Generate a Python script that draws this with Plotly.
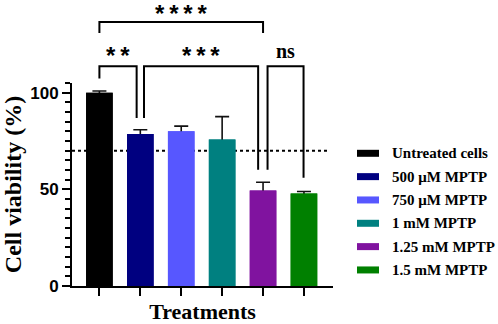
import plotly.graph_objects as go

# ---- data ----
categories = ["Untreated cells", "500 μM MPTP", "750 μM MPTP", "1 mM MPTP", "1.25 mM MPTP", "1.5 mM MPTP"]
viability = [100.0, 78.6, 80.0, 75.8, 49.4, 47.8]
err_up = [0.9, 2.2, 2.7, 11.8, 4.3, 1.1]
colors = ["#000000", "#000080", "#5757FF", "#008080", "#80139F", "#008000"]
threshold = 70
ytick_vals = [0, 50, 100]

# significance brackets: left x, right x, bar height, left leg end, right leg end, label
br_left = [0, 0, 1.09, 4.11]
br_right = [4.0, 0.91, 3.88, 4.99]
br_top = [136.6, 113.6, 113.6, 113.6]
br_lend = [130.9, 107.3, 86.9, 60.1]
br_rend = [130.9, 86.9, 60.1, 56.0]
br_label = ["*\u2009*\u2009*\u2009*", "*\u2009*", "*\u2009*\u2009*", "ns"]
label_shift = [-6, -4, -4, 3]

YMAX = 105
L, R, T, B = 72, 165, 83, 38
W, H = 498, 324
PW, PH = W - L - R, H - T - B

def py2paper(py):
    return (H - B - py) / PH

def px2paper(px):
    return (px - L) / PW

SERIF = "Liberation Serif"
SANS = "Liberation Sans"

fig = go.Figure()
# bars with error bars (lower part hidden by overlay bars)
fig.add_trace(go.Bar(
    x=categories, y=viability, marker=dict(color=colors, line=dict(width=0)),
    width=0.65, showlegend=False, hoverinfo="skip",
    error_y=dict(type="data", symmetric=False, array=err_up, arrayminus=viability,
                 color="#111111", thickness=1.6, width=7),
))
fig.add_trace(go.Bar(
    x=categories, y=viability, marker=dict(color=colors, line=dict(width=0)),
    width=0.65, showlegend=False,
))

shapes = []
# threshold dotted line (behind bars)
shapes.append(dict(type="line", xref="x", yref="y", x0=-0.67, x1=5.6, y0=threshold, y1=threshold,
                   line=dict(color="black", width=2, dash="dot"), layer="below"))

annotations = []
for xl, xr, yt, yl, yr, lab, ys in zip(br_left, br_right, br_top, br_lend, br_rend, br_label, label_shift):
    shapes.append(dict(type="path", xref="x", yref="paper",
                       path=f"M {xl},{yl/YMAX} L {xl},{yt/YMAX} L {xr},{yt/YMAX} L {xr},{yr/YMAX}",
                       line=dict(color="black", width=2)))
    is_ns = lab == "ns"
    annotations.append(dict(
        x=(xl + xr) / 2, y=yt / YMAX, xref="x", yref="paper", text=lab, showarrow=False,
        xanchor="center", yanchor="bottom", yshift=ys, borderpad=0,
        font=dict(family=SERIF if is_ns else SANS, size=20 if is_ns else 24, color="black", weight="bold"),
    ))

# custom legend
for i, (name, c) in enumerate(zip(categories, colors)):
    cy = 153.3 + 23.33 * i
    shapes.append(dict(type="rect", xref="paper", yref="paper",
                       x0=px2paper(357), x1=px2paper(379), y0=py2paper(cy + 3.5), y1=py2paper(cy - 3.5),
                       fillcolor=c, line=dict(width=0)))
    annotations.append(dict(x=px2paper(390), y=py2paper(cy), xref="paper", yref="paper",
                            text=name, showarrow=False, xanchor="left", yanchor="middle",
                            font=dict(family=SERIF, size=15, color="black", weight="bold")))

fig.update_layout(
    width=W, height=H, margin=dict(l=L, r=R, t=T, b=B, pad=0, autoexpand=False),
    paper_bgcolor="white", plot_bgcolor="white", barmode="overlay",
    showlegend=False, shapes=shapes, annotations=annotations,
    xaxis=dict(type="category", range=[-0.67, 5.71], showgrid=False, zeroline=False, automargin=False,
               showline=True, linecolor="black", linewidth=2,
               ticks="outside", ticklen=8, tickwidth=2, tickcolor="black", showticklabels=False,
               title=dict(text="Treatments", standoff=9,
                          font=dict(family=SERIF, size=22, color="black", weight="bold"))),
    yaxis=dict(range=[0, YMAX], showgrid=False, zeroline=False, automargin=False,
               showline=True, linecolor="black", linewidth=2,
               tickvals=ytick_vals, ticks="outside", ticklen=8, tickwidth=2, tickcolor="black",
               tickfont=dict(family=SANS, size=17, color="black", weight="bold"),
               minor=dict(tick0=0, dtick=5, ticks="outside", ticklen=5, tickwidth=2, tickcolor="black",
                          showgrid=False),
               title=dict(text="Cell viability (%)", standoff=7,
                          font=dict(family=SERIF, size=24, color="black", weight="bold"))),
)

fig.write_html("out.html", config={"displayModeBar": False},
               post_script="document.body.style.margin='0';document.body.style.overflow='hidden';")
